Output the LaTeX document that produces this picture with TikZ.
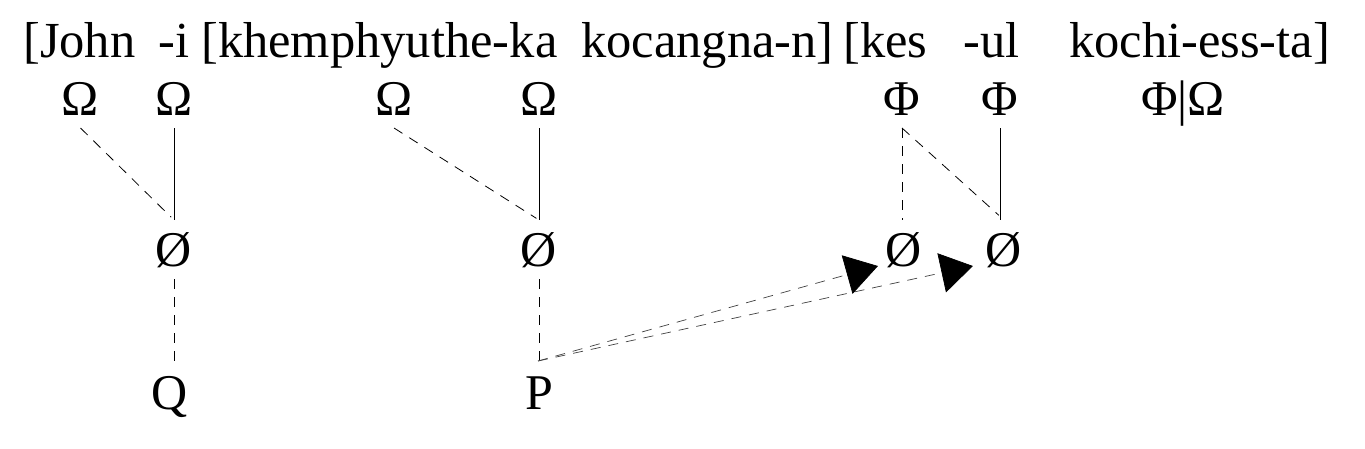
\documentclass[tikz,border=0pt]{standalone}
\usepackage{fontspec}
\setmainfont{Liberation Serif}
\usetikzlibrary{arrows.meta,calc}
\begin{document}
\begin{tikzpicture}[x=1pt,y=-1pt,
  word/.style={font=\fontsize{50.5}{60}\selectfont, inner sep=0pt, anchor=base west},
  sym/.style={font=\fontsize{50}{60}\selectfont, inner sep=0pt, outer sep=13pt, anchor=base, text height=33pt, text depth=0pt},
  solidln/.style={line width=0.8pt},
  dashln/.style={line width=0.8pt, dash pattern=on 10pt off 8pt},
  arrln/.style={line width=0.7pt, dash pattern=on 10pt off 8pt, draw=black!75, -{Triangle[length=32pt,width=40pt,fill=black,color=black]}}
]
\useasboundingbox (0,0) rectangle (1365,448);
% top row
\node[word] (w1) at (23,57) {[John};
\node[word] (w2) at (158,57) {-i};
\node[word] (w3) at (201,57) {[khemphyuthe-ka};
\node[word] (w4) at (581,57) {kocangna-n]};
\node[word] (w5) at (843,57) {[kes};
\node[word] (w6) at (963,57) {-ul};
\node[word] (w7) at (1069,57) {kochi-ess-ta]};
% second row
\node[sym] (o1) at (80.5,115) {Ω};
\node[sym] (o2) at (174,115) {Ω};
\node[sym] (o3) at (394,115) {Ω};
\node[sym] (o4) at (539,115) {Ω};
\node[sym] (f1) at (902,115) {Φ};
\node[sym] (f2) at (1000,115) {Φ};
\node[sym] (fo) at (1183,115) {Φ|Ω};
% third row
\node[sym] (z1) at (174,266) {Ø};
\node[sym] (z2) at (539,266) {Ø};
\node[sym] (z3) at (904,266) {Ø};
\node[sym] (z4) at (1004,266) {Ø};
% bottom row
\node[sym, outer sep=9pt] (q) at (170,409) {Q};
\node[sym, outer sep=9pt] (p) at (539,409) {P};
% connectors
\draw[dashln, shorten >=4pt] (o1.south) -- (z1.north);
\draw[solidln] (o2.south) -- (o2.south |- z1.north);
\draw[dashln, shorten >=3pt] (o3.south) -- (z2.north);
\draw[solidln] (o4.south) -- (o4.south |- z2.north);
\draw[dashln] (f1.south) -- (f1.south |- z3.north);
\draw[dashln, shorten >=7pt] (f1.south) -- (z4.north);
\draw[solidln] (f2.south) -- (f2.south |- z4.north);
\draw[dashln] (z1.south) -- (z1.south |- q.north);
\draw[dashln] (z2.south) -- (z2.south |- p.north);
\coordinate (ps) at (538,361);
\draw[arrln] (ps) -- (z4.base west);
\draw[arrln] (ps) -- ([xshift=5pt]z3.base west);
\end{tikzpicture}
\end{document}
